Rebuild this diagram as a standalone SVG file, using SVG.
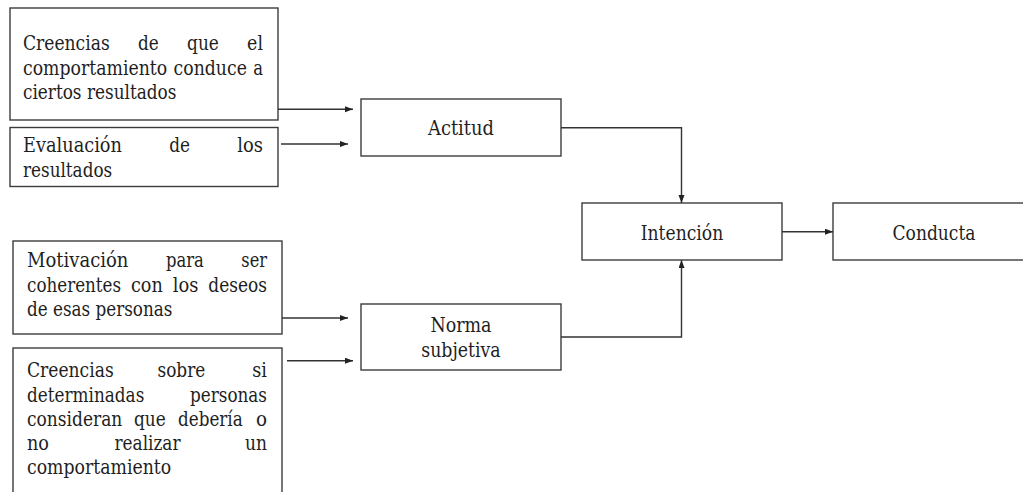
<svg xmlns="http://www.w3.org/2000/svg" width="1023" height="492" viewBox="0 0 1023 492">
  <style>
    .box { fill: #ffffff; stroke: #3c3c3c; stroke-width: 1.4; }
    .lbl { font-family: 'DejaVu Serif', 'Liberation Serif', serif; font-size: 19.5px; fill: #1e1e1e; }
    .mid { text-anchor: middle; }
    .wire { fill: none; stroke: #333333; stroke-width: 1.4; marker-end: url(#tip); }
  </style>
  <defs>
    <marker id="tip" markerUnits="userSpaceOnUse" markerWidth="9" markerHeight="7" refX="8" refY="3" orient="auto">
      <path d="M0,0 L8,3 L0,6 z" fill="#222222"/>
    </marker>
  </defs>
  <rect width="1023" height="492" fill="#ffffff"/>

  <!-- beliefs about outcomes; justified lines, one tspan per word -->
  <g id="creencias-resultados">
    <rect class="box" x="10" y="8" width="268" height="112"/>
    <text class="lbl">
      <tspan x="23" y="50" textLength="86.7" lengthAdjust="spacingAndGlyphs">Creencias</tspan>
      <tspan x="138" y="50" textLength="20.8" lengthAdjust="spacingAndGlyphs">de</tspan>
      <tspan x="187.1" y="50" textLength="31.8" lengthAdjust="spacingAndGlyphs">que</tspan>
      <tspan x="247.1" y="50" textLength="15.9" lengthAdjust="spacingAndGlyphs">el</tspan>
      <tspan x="23" y="74.5" textLength="144.2" lengthAdjust="spacingAndGlyphs">comportamiento</tspan>
      <tspan x="173.6" y="74.5" textLength="73.3" lengthAdjust="spacingAndGlyphs">conduce</tspan>
      <tspan x="253.2" y="74.5" textLength="9.8" lengthAdjust="spacingAndGlyphs">a</tspan>
      <tspan x="23" y="99" textLength="153.4" lengthAdjust="spacingAndGlyphs">ciertos resultados</tspan>
    </text>
  </g>

  <!-- evaluation of outcomes -->
  <g id="evaluacion">
    <rect class="box" x="10" y="127.5" width="268" height="59"/>
    <text class="lbl">
      <tspan x="23" y="152" textLength="99" lengthAdjust="spacingAndGlyphs">Evaluación</tspan>
      <tspan x="169.2" y="152" textLength="20.8" lengthAdjust="spacingAndGlyphs">de</tspan>
      <tspan x="237.3" y="152" textLength="25.7" lengthAdjust="spacingAndGlyphs">los</tspan>
      <tspan x="23" y="177" textLength="89.2" lengthAdjust="spacingAndGlyphs">resultados</tspan>
    </text>
  </g>

  <!-- motivation to comply -->
  <g id="motivacion">
    <rect class="box" x="13" y="241" width="269" height="93"/>
    <text class="lbl">
      <tspan x="27" y="267" textLength="101.4" lengthAdjust="spacingAndGlyphs">Motivación</tspan>
      <tspan x="165.9" y="267" textLength="37.9" lengthAdjust="spacingAndGlyphs">para</tspan>
      <tspan x="241.3" y="267" textLength="25.7" lengthAdjust="spacingAndGlyphs">ser</tspan>
      <tspan x="27" y="291.5" textLength="94.1" lengthAdjust="spacingAndGlyphs">coherentes</tspan>
      <tspan x="131" y="291.5" textLength="31.8" lengthAdjust="spacingAndGlyphs">con</tspan>
      <tspan x="172.8" y="291.5" textLength="25.7" lengthAdjust="spacingAndGlyphs">los</tspan>
      <tspan x="208.3" y="291.5" textLength="58.7" lengthAdjust="spacingAndGlyphs">deseos</tspan>
      <tspan x="27" y="315.5" textLength="145.4" lengthAdjust="spacingAndGlyphs">de esas personas</tspan>
    </text>
  </g>

  <!-- normative beliefs (box runs past the bottom edge) -->
  <g id="creencias-normativas">
    <rect class="box" x="13" y="348" width="269" height="160"/>
    <text class="lbl">
      <tspan x="27" y="377" textLength="86.7" lengthAdjust="spacingAndGlyphs">Creencias</tspan>
      <tspan x="157.5" y="377" textLength="47.7" lengthAdjust="spacingAndGlyphs">sobre</tspan>
      <tspan x="252.3" y="377" textLength="14.7" lengthAdjust="spacingAndGlyphs">si</tspan>
      <tspan x="27" y="401.5" textLength="117.3" lengthAdjust="spacingAndGlyphs">determinadas</tspan>
      <tspan x="190" y="401.5" textLength="77" lengthAdjust="spacingAndGlyphs">personas</tspan>
      <tspan x="27" y="425.5" textLength="95.3" lengthAdjust="spacingAndGlyphs">consideran</tspan>
      <tspan x="134" y="425.5" textLength="31.8" lengthAdjust="spacingAndGlyphs">que</tspan>
      <tspan x="178" y="425.5" textLength="64.7" lengthAdjust="spacingAndGlyphs">debería</tspan>
      <tspan x="256" y="425.5" textLength="11" lengthAdjust="spacingAndGlyphs">o</tspan>
      <tspan x="27" y="449.5" textLength="22" lengthAdjust="spacingAndGlyphs">no</tspan>
      <tspan x="114.5" y="449.5" textLength="66" lengthAdjust="spacingAndGlyphs">realizar</tspan>
      <tspan x="245" y="449.5" textLength="22" lengthAdjust="spacingAndGlyphs">un</tspan>
      <tspan x="27" y="473.5" textLength="144.2" lengthAdjust="spacingAndGlyphs">comportamiento</tspan>
    </text>
  </g>

  <g id="actitud">
    <rect class="box" x="361" y="99" width="200" height="57"/>
    <text class="lbl mid" x="461" y="135" textLength="66" lengthAdjust="spacingAndGlyphs">Actitud</text>
  </g>

  <g id="norma-subjetiva">
    <rect class="box" x="361" y="304" width="200" height="66"/>
    <text class="lbl mid" x="461" y="332" textLength="61.1" lengthAdjust="spacingAndGlyphs">Norma</text>
    <text class="lbl mid" x="461" y="357" textLength="79.4" lengthAdjust="spacingAndGlyphs">subjetiva</text>
  </g>

  <g id="intencion">
    <rect class="box" x="582" y="203" width="200" height="57"/>
    <text class="lbl mid" x="682" y="240" textLength="82.5" lengthAdjust="spacingAndGlyphs">Intención</text>
  </g>

  <g id="conducta">
    <rect class="box" x="833" y="203" width="200" height="57"/>
    <text class="lbl mid" x="934" y="240" textLength="83" lengthAdjust="spacingAndGlyphs">Conducta</text>
  </g>

  <g id="connectors">
    <path class="wire" d="M278,109.3 L353,109.3"/>
    <path class="wire" d="M281,144 L348,144"/>
    <path class="wire" d="M282,318 L348,318"/>
    <path class="wire" d="M287,360.7 L353,360.7"/>
    <path class="wire" d="M561,127.7 L681.5,127.7 L681.5,203"/>
    <path class="wire" d="M561,337 L681.5,337 L681.5,260"/>
    <path class="wire" d="M782,231.7 L833,231.7"/>
  </g>
</svg>
